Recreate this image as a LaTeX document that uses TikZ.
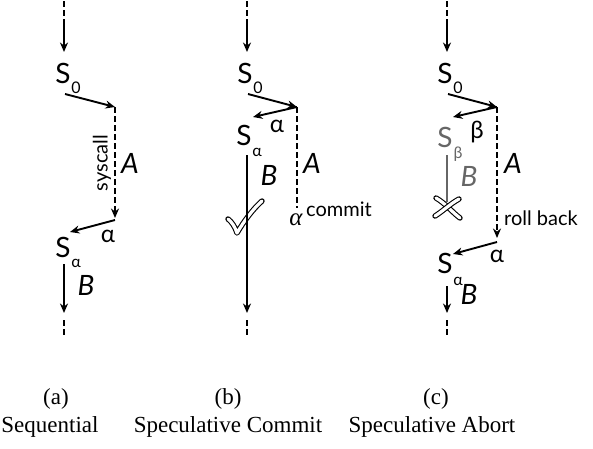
\documentclass[tikz,border=0pt]{standalone}
\usepackage{fontspec}
\setmainfont{Liberation Serif}
\newfontfamily\labelfont{Lato}
\usetikzlibrary{arrows.meta}

\tikzset{
  flow/.style={line width=1.9pt, -{Stealth[length=9.5pt,width=8pt]}},
  gap/.style={line width=1.9pt, dash pattern=on 6pt off 3pt},
  state/.style={font=\labelfont\fontsize{28}{28}\selectfont, inner sep=0pt},
  sub/.style={font=\labelfont\fontsize{16}{16}\selectfont, inner sep=0pt},
  code/.style={font=\labelfont\itshape\fontsize{28}{28}\selectfont, inner sep=0pt},
  note/.style={font=\labelfont\fontsize{20}{20}\selectfont, inner sep=0pt},
  greek/.style={font=\labelfont\fontsize{24}{24}\selectfont, inner sep=0pt},
  caption/.style={font=\fontsize{23}{27}\selectfont, inner sep=0pt, anchor=base},
  hollow/.style={double=white, double distance=3.2pt, line width=1.1pt, line cap=round, line join=round},
}
\colorlet{faded}{black!60}

\begin{document}
\begin{tikzpicture}[x=1pt, y=1pt]
    \useasboundingbox (0,0) rectangle (593,-448);

    % (a) Sequential
    \begin{scope}[xshift=64pt]
        \coordinate (a-top) at (0,-1);
        \coordinate (a-in) at (0,-21);
        \coordinate (a-s0top) at (0,-52);
        \draw[gap] (a-top) -- (a-in);
        \draw[flow] (a-in) -- (a-s0top);
        \node[state] (a-s0) at (-1,-73) {S};
        \node[sub] (a-s0i) at (12,-88) {0};
        \coordinate (a-out) at (1,-94);
        \coordinate (a-fork) at (51,-107);
        \draw[flow] (a-out) -- (a-fork);
        \coordinate (a-join) at (51,-218);
        \draw[flow, dash pattern=on 6pt off 3pt] (a-fork) -- (a-join);
        \node[note, rotate=90] (a-sys) at (38,-163) {syscall};
        \node[code] (a-A) at (66,-163) {A};
        \coordinate (a-back) at (51,-220);
        \coordinate (a-s1top) at (6,-232);
        \draw[flow] (a-back) -- (a-s1top);
        \node[greek] (a-alpha) at (44,-236) {α};
        \node[state] (a-s1) at (-1,-247) {S};
        \node[sub] (a-s1i) at (12,-263) {α};
        \coordinate (a-s1out) at (0,-264);
        \coordinate (a-down) at (0,-313);
        \draw[flow] (a-s1out) -- (a-down);
        \node[code] (a-B) at (22,-285) {B};
        \coordinate (a-end) at (0,-336);
        \draw[gap] (0,-320) -- (a-end);
    \end{scope}

    % (b) Speculative Commit
    \begin{scope}[xshift=247pt]
        \coordinate (b-top) at (0,-1);
        \coordinate (b-in) at (0,-21);
        \coordinate (b-s0top) at (0,-52);
        \draw[gap] (b-top) -- (b-in);
        \draw[flow] (b-in) -- (b-s0top);
        \node[state] (b-s0) at (-2,-73) {S};
        \node[sub] (b-s0i) at (11,-88) {0};
        \coordinate (b-out) at (1,-94);
        \coordinate (b-fork) at (50,-107);
        \draw[flow] (b-out) -- (b-fork);
        \coordinate (b-s1top) at (6,-117);
        \draw[flow] (b-fork) -- (b-s1top);
        \node[greek] (b-alpha) at (30,-126) {α};
        \node[state] (b-s1) at (-3,-135) {S};
        \node[sub] (b-s1i) at (10,-152) {α};
        \node[code] (b-B) at (22,-175) {B};
        % commit mark
        \draw[hollow] (-19,-219) .. controls (-15,-222) and (-12,-227) .. (-10,-233)
                      .. controls (-3,-221) and (6,-209) .. (15,-201);
        \coordinate (b-s1out) at (0,-155);
        \coordinate (b-down) at (0,-313);
        \draw[flow] (b-s1out) -- (b-down);
        \coordinate (b-stop) at (50,-208);
        \draw[gap] (b-fork) -- (b-stop);
        \node[code] (b-A) at (65,-163) {A};
        \node[inner sep=0pt, font=\itshape\fontsize{25}{25}\selectfont] (b-alpha2) at (49,-220) {α};
        \node[note, anchor=west] (b-commit) at (59,-209) {commit};
        \coordinate (b-end) at (0,-336);
        \draw[gap] (0,-320) -- (b-end);
    \end{scope}

    % (c) Speculative Abort
    \begin{scope}[xshift=447pt]
        \coordinate (c-top) at (0,-1);
        \coordinate (c-in) at (0,-21);
        \coordinate (c-s0top) at (0,-52);
        \draw[gap] (c-top) -- (c-in);
        \draw[flow] (c-in) -- (c-s0top);
        \node[state] (c-s0) at (-2,-73) {S};
        \node[sub] (c-s0i) at (11,-88) {0};
        \coordinate (c-out) at (1,-94);
        \coordinate (c-fork) at (50,-107);
        \draw[flow] (c-out) -- (c-fork);
        \coordinate (c-sbtop) at (6,-117);
        \draw[flow] (c-fork) -- (c-sbtop);
        \node[greek] (c-beta) at (30,-132) {β};
        \node[state, text=faded] (c-sb) at (-2,-137) {S};
        \node[sub, text=faded] (c-sbi) at (11,-154) {β};
        \node[code, text=faded] (c-Bb) at (22,-176) {B};
        \coordinate (c-sbout) at (0,-155);
        \coordinate (c-kill) at (0,-202);
        \draw[faded, line width=1.2pt] (c-sbout) -- (c-kill);
        % abort mark
        \draw[hollow] (-11,-198) .. controls (-2,-203) and (5,-212) .. (13,-218);
        \draw[hollow] (12,-199) .. controls (3,-204) and (-4,-211) .. (-12,-216);
        \coordinate (c-join) at (50,-238);
        \draw[flow, dash pattern=on 6pt off 3pt] (c-fork) -- (c-join);
        \node[code] (c-A) at (66,-163) {A};
        \node[note, anchor=west] (c-roll) at (57,-218) {roll back};
        \coordinate (c-back) at (50,-242);
        \coordinate (c-s1top) at (6,-254);
        \draw[flow] (c-back) -- (c-s1top);
        \node[greek] (c-alpha) at (50,-256) {α};
        \node[state] (c-s1) at (-2,-263) {S};
        \node[sub] (c-s1i) at (11,-281) {α};
        \coordinate (c-s1out) at (0,-286);
        \coordinate (c-down) at (0,-313);
        \draw[flow] (c-s1out) -- (c-down);
        \node[code] (c-B) at (22,-294) {B};
        \coordinate (c-end) at (0,-336);
        \draw[gap] (0,-320) -- (c-end);
    \end{scope}

    % captions
    \node[caption] (cap-a) at (56,-404) {(a)};
    \node[caption] (title-a) at (50,-432) {Sequential};
    \node[caption] (cap-b) at (228,-404) {(b)};
    \node[caption] (title-b) at (228,-432) {Speculative Commit};
    \node[caption] (cap-c) at (436,-404) {(c)};
    \node[caption] (title-c) at (432,-432) {Speculative Abort};
\end{tikzpicture}
\end{document}
